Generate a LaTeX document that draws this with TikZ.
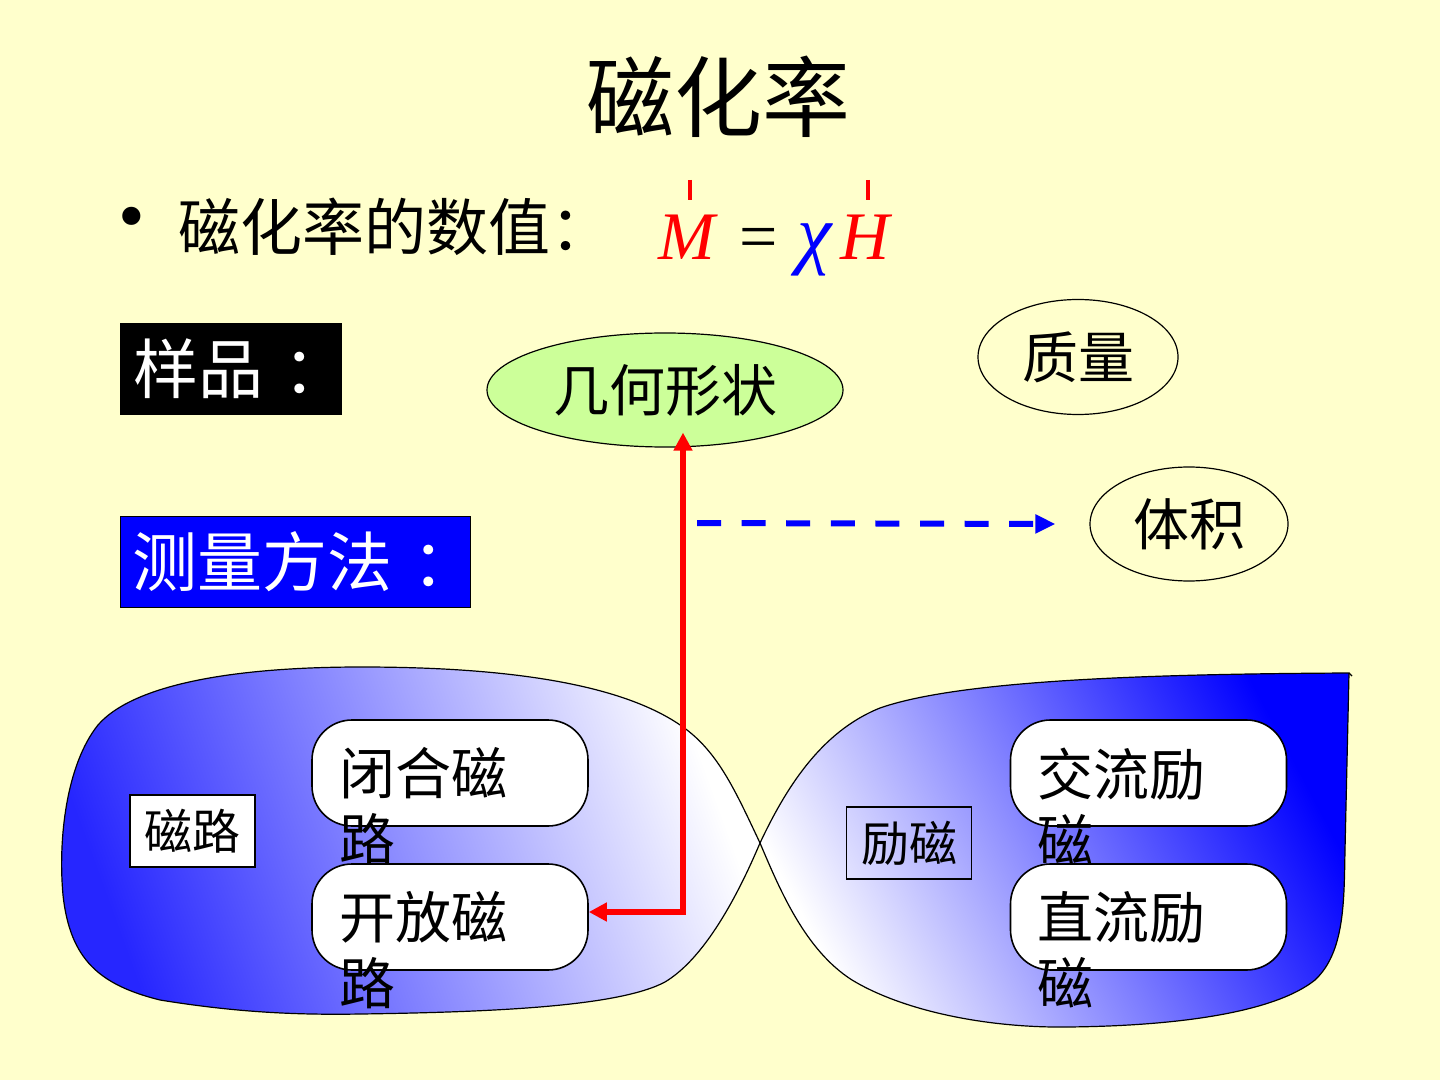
\documentclass[tikz,border=0pt]{standalone}
\usepackage{fontspec}
\setmainfont{Liberation Serif}
\newfontfamily\cjk{Noto Sans CJK SC}
\usepackage{tikz}
\usetikzlibrary{shapes.geometric,arrows.meta}

\definecolor{slideyellow}{RGB}{255,255,204}
\definecolor{lightgreen}{RGB}{204,255,153}

\begin{document}
\begin{tikzpicture}[x=0.5pt, y=-0.5pt,
    cjkfont/.style={font={\cjk\fontsize{#1}{#1}\selectfont}},
    tagbox/.style={draw, rectangle, line width=0.7pt, minimum width=62.5pt, minimum height=36pt, inner sep=0pt, cjkfont=24},
    roundbox/.style={draw, fill=white, line width=0.8pt, rounded corners=20pt, minimum width=138pt, minimum height=53pt},
    boxtext/.style={anchor=north west, align=left, inner sep=0pt, font={\cjk\fontsize{28}{33}\selectfont}},
    bubble/.style={ellipse, draw, line width=0.6pt, inner sep=0pt, cjkfont=28},
    redline/.style={draw=red, line width=3pt, {Triangle[length=9pt,width=9pt]}-{Triangle[length=9pt,width=9pt]}},
    blueline/.style={draw=blue, line width=3pt, dash pattern=on 12pt off 10.3pt, -{Triangle[length=10pt,width=9pt]}}]

  \useasboundingbox (0,0) rectangle (1440,1080);
  \fill [slideyellow] (0,0) rectangle (1440,1080);

  % two blobs
  \path [draw, line width=0.6pt, top color=blue!85!white, bottom color=white, shading angle=110]
    (760,843) .. controls (735,790) and (718,752) .. (683,727)
    .. controls (620,682) and (500,667) .. (361,667)
    .. controls (220,667) and (130,688) .. (98,725)
    .. controls (66,765) and (58,840) .. (63,895)
    .. controls (70,960) and (100,985) .. (160,1000)
    .. controls (240,1013) and (300,1015) .. (361,1014)
    .. controls (500,1012) and (620,1006) .. (665,982)
    .. controls (705,958) and (738,895) .. (760,843) -- cycle;
  \path [draw, line width=0.6pt, top color=blue, bottom color=white, shading angle=-62]
    (760,843) .. controls (780,890) and (805,950) .. (852,980)
    .. controls (905,1012) and (990,1028) .. (1067,1027)
    .. controls (1180,1026) and (1275,1012) .. (1315,980)
    .. controls (1345,952) and (1344,900) .. (1345,850)
    -- (1349,673)
    .. controls (1150,674) and (960,680) .. (880,708)
    .. controls (820,732) and (785,790) .. (760,843) -- cycle;
  \draw [line width=0.6pt] (1349,673) -- (1352,676);

  \node [cjkfont=44] (title) at (718,97) {磁化率};
  \node [font=\fontsize{38}{38}\selectfont] (bullet) at (132,224) {•};
  \node [cjkfont=31, anchor=west, inner sep=0pt] (value) at (178,227) {磁化率的数值：};

  \node [red, font=\fontsize{34}{34}\selectfont\itshape, anchor=base] (mvec) at (687,260) {M};
  \node [font=\fontsize{34}{34}\selectfont, anchor=base] (equal) at (759,260) {=};
  \node [blue, font=\fontsize{39}{39}\selectfont\itshape, anchor=base] (chi) at (815,260) {χ};
  \node [red, font=\fontsize{34}{34}\selectfont\itshape, anchor=base] (hvec) at (865,260) {H};
  \draw [red, line width=2pt] (690,180) -- (690,200);
  \draw [red, line width=2pt] (868,180) -- (868,200);

  \node [fill=black, text=white, minimum width=111pt, minimum height=46pt, inner sep=0pt, cjkfont=32.5] (sample) at (231,369) {样品\kern.3em：\kern-.3em};
  \node [draw, fill=blue, text=white, minimum width=175pt, minimum height=45.5pt, inner sep=0pt, cjkfont=32.5] (method) at (295,561.5) {测量方法\kern.3em：\kern-.3em};

  \node [bubble, fill=lightgreen, minimum width=178pt, minimum height=57pt] (geometry) at (665,390) {几何形状};
  \node [bubble, minimum width=100pt, minimum height=57.5pt] (mass) at (1078,357) {质量};
  \node [bubble, minimum width=99pt, minimum height=57pt] (volume) at (1189,524) {体积};

  \node [tagbox, fill=white] (circuit) at (192.5,831) {磁路};
  \node [tagbox] (excite) at (909,843) {励磁};

  \node [roundbox] (closed) at (450,773) {};
  \node [roundbox] (open) at (450,917) {};
  \node [roundbox] (ac) at (1148.5,773) {};
  \node [roundbox] (dc) at (1148.5,917) {};
  \node [boxtext] (closedtext) at ([xshift=14pt,yshift=-14pt]closed.north west) {闭合磁\\路};
  \node [boxtext] (opentext) at ([xshift=14pt,yshift=-14pt]open.north west) {开放磁\\路};
  \node [boxtext] (actext) at ([xshift=13.5pt,yshift=-14pt]ac.north west) {交流励\\磁};
  \node [boxtext] (dctext) at ([xshift=13.5pt,yshift=-14pt]dc.north west) {直流励\\磁};

  \draw [redline] ([xshift=9pt,yshift=7.5pt]geometry.south) |- ([yshift=2.5pt]open.east);
  \coordinate (dashstart) at (697,523);
  \draw [blueline] (dashstart) -- ([xshift=-17pt]volume.west);
\end{tikzpicture}
\end{document}
